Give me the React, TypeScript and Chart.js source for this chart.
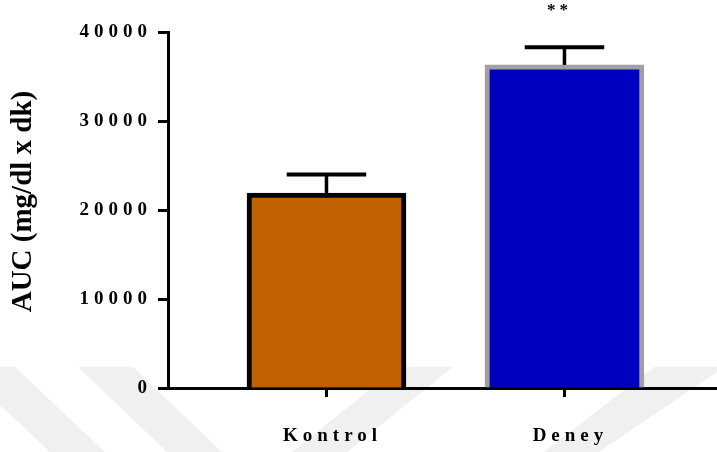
import React, { useEffect, useRef } from 'react';
import { Chart, registerables } from 'chart.js';

Chart.register(...registerables);

// ---- data ----
const categories = ['Kontrol', 'Deney'];
const means = [21900, 36300];
const sems = [2100, 2000];
const yTicks = [0, 10000, 20000, 30000, 40000];
const yTitle = 'AUC (mg/dl x dk)';
const significance = ['', '**'];

// ---- styles ----
const fillColors = ['#C06000', '#0000C0'];
const borderColors = ['#000000', '#A0A0A0'];
const FAMILY = '"Liberation Serif", "Times New Roman", serif';

// faint background watermark bands (decoration, page pixels)
const watermarkBands: number[][][] = [
  [[-40, 367], [15, 367], [105, 452], [50, 452]],
  [[78, 367], [133, 367], [222, 452], [167, 452]],
  [[398, 367], [453, 367], [347, 452], [292, 452]],
  [[654, 367], [717, 367], [717, 372], [599, 452], [544, 452]],
];

const customPlugin = {
  id: 'custom',
  beforeDraw(chart: any) {
    const ctx = chart.ctx;
    ctx.save();
    ctx.fillStyle = '#f0f0f0';
    watermarkBands.forEach((poly) => {
      ctx.beginPath();
      poly.forEach(([x, y], k) => (k === 0 ? ctx.moveTo(x, y) : ctx.lineTo(x, y)));
      ctx.closePath();
      ctx.fill();
    });
    ctx.restore();
    ctx.letterSpacing = '5px';
  },
  afterDatasetsDraw(chart: any) {
    const ctx = chart.ctx;
    const meta = chart.getDatasetMeta(0);
    const yScale = chart.scales.y;
    ctx.save();
    ctx.strokeStyle = '#000';
    ctx.lineCap = 'butt';
    meta.data.forEach((bar: any, i: number) => {
      const top = yScale.getPixelForValue(means[i] + sems[i]);
      const half = bar.width / 4;
      ctx.lineWidth = 3.5;
      ctx.beginPath();
      ctx.moveTo(bar.x, bar.y);
      ctx.lineTo(bar.x, top);
      ctx.stroke();
      ctx.lineWidth = 4;
      ctx.beginPath();
      ctx.moveTo(bar.x - half, top);
      ctx.lineTo(bar.x + half, top);
      ctx.stroke();
    });
    ctx.restore();
  },
  afterDraw(chart: any) {
    const ctx = chart.ctx;
    const area = chart.chartArea;
    const meta = chart.getDatasetMeta(0);
    const yScale = chart.scales.y;
    // y title
    ctx.save();
    ctx.letterSpacing = '0px';
    ctx.fillStyle = '#000';
    ctx.font = `bold 29px ${FAMILY}`;
    ctx.textAlign = 'center';
    ctx.textBaseline = 'middle';
    ctx.translate(24, (area.top + area.bottom) / 2 - 8.5);
    ctx.rotate(-Math.PI / 2);
    ctx.fillText(yTitle, 0, 0);
    ctx.restore();
    // significance marks
    ctx.save();
    ctx.letterSpacing = '4px';
    ctx.fillStyle = '#000';
    ctx.font = `bold 17px ${FAMILY}`;
    ctx.textAlign = 'center';
    ctx.textBaseline = 'alphabetic';
    meta.data.forEach((bar: any, i: number) => {
      if (!significance[i]) return;
      const top = yScale.getPixelForValue(means[i] + sems[i]);
      ctx.fillText(significance[i], bar.x - 5, top - 32);
    });
    ctx.restore();
  },
};

export default function App() {
  const ref = useRef<HTMLCanvasElement | null>(null);
  useEffect(() => {
    if (!ref.current) return;
    const tickFont = { family: FAMILY, size: 19, weight: 'bold' as const };
    const chart = new Chart(ref.current, {
      type: 'bar',
      data: {
        datasets: [
          {
            data: means.map((m, i) => ({ x: i + 1, y: m })),
            backgroundColor: fillColors,
            borderColor: borderColors,
            borderWidth: 5,
            borderSkipped: 'bottom',
            barThickness: 159,
          } as any,
        ],
      },
      options: {
        animation: false,
        responsive: false,
        layout: { padding: { top: 32, left: 0, right: 0, bottom: 0 } },
        plugins: { legend: { display: false }, tooltip: { enabled: false } },
        scales: {
          x: {
            type: 'linear',
            min: 0.334,
            max: 2.641,
            offset: false,
            afterBuildTicks: (s: any) => {
              s.ticks = categories.map((_, i) => ({ value: i + 1 }));
            },
            afterFit: (s: any) => {
              s.height = 64;
            },
            grid: {
              offset: false,
              drawOnChartArea: false,
              drawTicks: true,
              tickLength: 9,
              tickWidth: 3,
              tickColor: '#000',
            },
            border: { display: true, color: '#000', width: 3 },
            ticks: {
              callback: (v: any) => categories[Number(v) - 1] ?? '',
              font: tickFont,
              color: '#000',
              padding: 28,
              labelOffset: 6,
              maxRotation: 0,
              autoSkip: false,
            },
          },
          y: {
            min: 0,
            max: 40000,
            afterBuildTicks: (s: any) => {
              s.ticks = yTicks.map((v) => ({ value: v }));
            },
            afterFit: (s: any) => {
              s.width = 168;
            },
            grid: {
              drawOnChartArea: false,
              drawTicks: true,
              tickLength: 10,
              tickWidth: 3,
              tickColor: '#000',
            },
            border: { display: true, color: '#000', width: 3 },
            ticks: {
              callback: (v: any) => String(v),
              font: tickFont,
              color: '#000',
              padding: 6,
            },
          },
        },
      } as any,
      plugins: [customPlugin],
    });
    return () => chart.destroy();
  }, []);
  return (
    <div style={{ position: 'absolute', left: 0, top: 0, width: 717, height: 452, background: '#fff' }}>
      <canvas ref={ref} width={717} height={452} />
    </div>
  );
}
